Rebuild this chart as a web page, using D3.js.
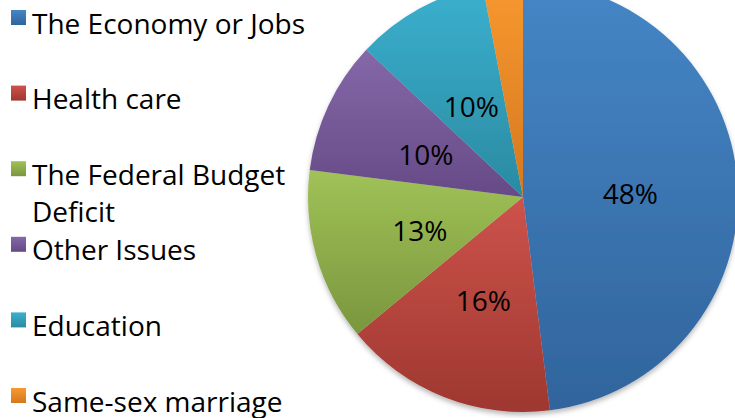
<!DOCTYPE html>
<html>
<head>
<meta charset="utf-8">
<script src="https://cdn.jsdelivr.net/npm/d3@7"></script>
<style>
  html, body { margin: 0; padding: 0; background: #fff; }
  svg { display: block; font-family: "Open Sans", "Noto Sans", sans-serif; }
</style>
</head>
<body>
<svg id="chart" width="735" height="418"></svg>
<script>
// Most important issue, share of respondents (%)
const categories = [
  "The Economy or Jobs",
  "Health care",
  "The Federal Budget Deficit",
  "Other Issues",
  "Education",
  "Same-sex marriage"
];
const shares = [48, 16, 13, 10, 10, 3];
// Slices that carry a percentage label
const labelled = [true, true, true, true, true, false];
// Gradient stops per slice: lighter at the top, deeper at the bottom
const topColors = ["#4586c6", "#cd534b", "#a0c257", "#8468a8", "#3bb0ce", "#f8982f"];
const bottomColors = ["#31649c", "#9e3730", "#7a963e", "#664a86", "#2a8aa2", "#d4781f"];

const W = 735, H = 418;
const svg = d3.select("#chart");
const defs = svg.append("defs");

const data = categories.map((name, i) => ({ name, value: shares[i], i }));

categories.forEach((_, i) => {
  const g = defs.append("linearGradient")
    .attr("id", "grad" + i)
    .attr("x1", 0).attr("y1", 0).attr("x2", 0).attr("y2", 1);
  g.append("stop").attr("offset", "0%").attr("stop-color", topColors[i]);
  g.append("stop").attr("offset", "100%").attr("stop-color", bottomColors[i]);
});

const shadow = defs.append("filter").attr("id", "pieShadow")
  .attr("x", "-10%").attr("y", "-10%").attr("width", "120%").attr("height", "120%");
shadow.append("feDropShadow")
  .attr("dx", 0).attr("dy", 3).attr("stdDeviation", 2.5)
  .attr("flood-color", "#000").attr("flood-opacity", 0.28);

// Pie
const cx = 523, cy = 197, radius = 215;
const pie = d3.pie().value(d => d.value).sort(null);
const arc = d3.arc().innerRadius(0).outerRadius(radius);
const arcs = pie(data);

const pieG = svg.append("g").attr("transform", `translate(${cx},${cy})`);
pieG.append("g").attr("filter", "url(#pieShadow)")
  .selectAll("path")
  .data(arcs)
  .join("path")
  .attr("d", arc)
  .attr("fill", d => `url(#grad${d.data.i})`);

pieG.selectAll("text.pct")
  .data(arcs.filter(d => labelled[d.data.i]))
  .join("text")
  .attr("class", "pct")
  .attr("x", d => arc.centroid(d)[0])
  .attr("y", d => arc.centroid(d)[1] + 14)
  .attr("text-anchor", "middle")
  .attr("font-size", 28)
  .attr("fill", "#000")
  .text(d => d3.format(".0f")(d.data.value) + "%");

// Legend
const legendY = d3.scalePoint().domain(categories).range([17.5, 395.5]);
const textX = 32, lineH = 37, maxW = 290;
const legend = svg.append("g");

const items = legend.selectAll("g.item")
  .data(data)
  .join("g")
  .attr("class", "item")
  .attr("transform", d => `translate(0,${legendY(d.name)})`);

items.append("rect")
  .attr("x", 11).attr("y", -7.5)
  .attr("width", 15).attr("height", 15)
  .attr("fill", d => `url(#grad${d.i})`);

items.each(function(d) {
  const t = d3.select(this).append("text")
    .attr("x", textX).attr("y", 16)
    .attr("font-size", 28)
    .attr("fill", "#000");
  // wrap words onto lines that fit the legend width
  const words = d.name.split(" ");
  let line = [];
  let tspan = t.append("tspan").attr("x", textX).attr("dy", 0);
  words.forEach(w => {
    line.push(w);
    tspan.text(line.join(" "));
    if (tspan.node().getComputedTextLength() > maxW && line.length > 1) {
      line.pop();
      tspan.text(line.join(" "));
      line = [w];
      tspan = t.append("tspan").attr("x", textX).attr("dy", lineH).text(w);
    }
  });
});
</script>
</body>
</html>
